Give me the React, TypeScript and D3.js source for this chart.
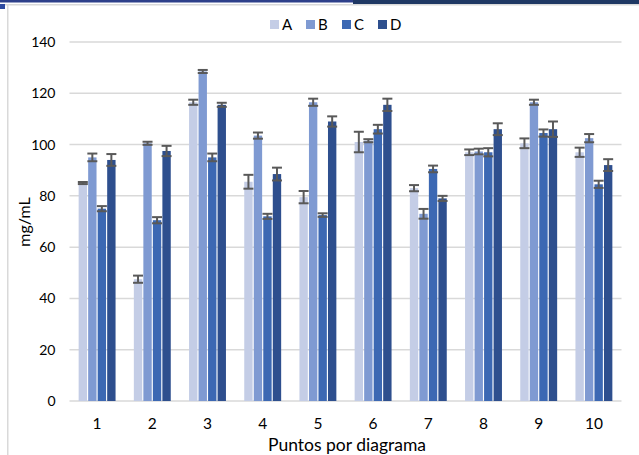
import * as d3 from "d3";
import React, {useRef, useEffect} from "react";

const categories = ["1", "2", "3", "4", "5", "6", "7", "8", "9", "10"];
const seriesNames = ["A", "B", "C", "D"];
const seriesA = [85, 47.5, 116.5, 85.5, 79.5, 101, 83, 97, 100.5, 97];
const seriesB = [95, 100.5, 128.5, 103.5, 116.5, 101.5, 73, 97.3, 116.5, 102.5];
const seriesC = [75, 70.5, 95, 72, 72.5, 106, 90.5, 97, 104.5, 84.5];
const seriesD = [94, 97.5, 115.5, 88.5, 109, 115.5, 79, 106, 106, 92];
const errA = [0.4, 1.4, 1, 2.7, 2.4, 4, 1.2, 1.1, 1.9, 1.8];
const errB = [1.5, 0.6, 0.6, 1.2, 1.4, 0.6, 1.9, 1.1, 1, 1.6];
const errC = [1, 1.2, 1.5, 1, 0.7, 1.7, 1.3, 1.6, 1.4, 1.4];
const errD = [2.3, 2, 0.8, 2.5, 2, 2.4, 1, 2.3, 3, 2.3];
const yTicks = [0, 20, 40, 60, 80, 100, 120, 140];
const colors = ["#c4cde6", "#7f9ad2", "#3c68b3", "#2e4f8e"];

function App() {

    const ref = useRef(null);

    useEffect(() => {

        const svg = d3.select(ref.current);
        svg.selectAll("*").remove();

        const font = "Lato, 'Open Sans', sans-serif";
        const left = 69.5, right = 621.5, top = 42, bottom = 401;

        const values = [seriesA, seriesB, seriesC, seriesD];
        const errors = [errA, errB, errC, errD];
        const data = categories.map((c, i) => ({
            cat: c,
            items: seriesNames.map((s, j) => ({name: s, idx: j, value: values[j][i], err: errors[j][i]}))
        }));

        // frame bits
        svg.append("rect").attr("x", 0).attr("y", 0).attr("width", 639).attr("height", 455).attr("fill", "#fff");
        svg.append("rect").attr("x", 0).attr("y", 0).attr("width", 353).attr("height", 2.5).attr("fill", "#2d3f8a");
        svg.append("rect").attr("x", 353).attr("y", 0).attr("width", 286).attr("height", 4).attr("fill", "#1f3864");
        svg.append("rect").attr("x", 0).attr("y", 4).attr("width", 639).attr("height", 1.5).attr("fill", "#d9d9d9");
        svg.append("rect").attr("x", 7).attr("y", 4).attr("width", 1.5).attr("height", 451).attr("fill", "#d9d9d9");
        svg.append("rect").attr("x", 0).attr("y", 4).attr("width", 5).attr("height", 5).attr("fill", "#2e4aa0");

        const x = d3.scaleBand()
            .domain(categories)
            .range([left, right])
            .paddingInner(0.29)
            .paddingOuter(0.145);

        const sub = d3.scaleBand()
            .domain(seriesNames)
            .range([0, x.bandwidth()])
            .padding(0.12);

        const y = d3.scaleLinear()
            .domain([0, 140])
            .range([bottom, top]);

        // grid
        svg.append("g")
            .selectAll("line")
            .data(yTicks)
            .enter()
            .append("line")
            .attr("x1", left)
            .attr("x2", right)
            .attr("y1", d => y(d))
            .attr("y2", d => y(d))
            .attr("stroke", "#d9d9d9")
            .attr("stroke-width", 1.5);

        const yAxis = d3.axisLeft(y).tickValues(yTicks).tickSize(0).tickPadding(14);
        const gy = svg.append("g")
            .attr("transform", `translate(${left},0)`)
            .call(yAxis);
        gy.select(".domain").remove();
        gy.selectAll("text")
            .attr("font-family", font)
            .attr("font-size", 14)
            .attr("fill", "#000");

        const xAxis = d3.axisBottom(x).tickSize(0).tickPadding(17);
        const gx = svg.append("g")
            .attr("transform", `translate(0,${bottom})`)
            .call(xAxis);
        gx.select(".domain").remove();
        gx.selectAll("text")
            .attr("font-family", font)
            .attr("font-size", 15.5)
            .attr("fill", "#000");

        const groups = svg.selectAll(".grp")
            .data(data)
            .enter()
            .append("g")
            .attr("class", "grp")
            .attr("transform", d => `translate(${x(d.cat)},0)`);

        groups.selectAll("rect")
            .data(d => d.items)
            .enter()
            .append("rect")
            .attr("x", d => sub(d.name))
            .attr("width", sub.bandwidth())
            .attr("y", d => y(d.value))
            .attr("height", d => bottom - y(d.value))
            .attr("fill", d => colors[d.idx]);

        // error bars
        const eb = groups.selectAll(".err")
            .data(d => d.items)
            .enter()
            .append("g")
            .attr("class", "err")
            .attr("stroke", "#595959")
            .attr("stroke-width", 2);

        const cx = d => sub(d.name) + sub.bandwidth() / 2;
        const cap = 5;
        eb.append("line")
            .attr("x1", cx).attr("x2", cx)
            .attr("y1", d => y(d.value + d.err)).attr("y2", d => y(d.value - d.err));
        eb.append("line")
            .attr("x1", d => cx(d) - cap).attr("x2", d => cx(d) + cap)
            .attr("y1", d => y(d.value + d.err)).attr("y2", d => y(d.value + d.err));
        eb.append("line")
            .attr("x1", d => cx(d) - cap).attr("x2", d => cx(d) + cap)
            .attr("y1", d => y(d.value - d.err)).attr("y2", d => y(d.value - d.err));

        // legend
        const legendX = [270, 306, 342, 378];
        const legend = svg.append("g")
            .selectAll("g")
            .data(seriesNames)
            .enter()
            .append("g")
            .attr("transform", (d, i) => `translate(${legendX[i]},20)`);
        legend.append("rect")
            .attr("width", 9)
            .attr("height", 9)
            .attr("fill", (d, i) => colors[i]);
        legend.append("text")
            .text(d => d)
            .attr("x", 12)
            .attr("y", 10)
            .attr("font-family", font)
            .attr("font-size", 15)
            .attr("fill", "#000");

        svg.append("text")
            .text("mg/mL")
            .attr("transform", "translate(30,222) rotate(-90)")
            .attr("text-anchor", "middle")
            .attr("font-family", font)
            .attr("font-size", 16)
            .attr("fill", "#000");

        svg.append("text")
            .text("Puntos por diagrama")
            .attr("x", 347)
            .attr("y", 451)
            .attr("text-anchor", "middle")
            .attr("font-family", font)
            .attr("font-size", 17.5)
            .attr("fill", "#000");

    }, []);

    return (
        <svg ref={ref} width={639} height={455}
            style={{position: "absolute", left: 0, top: 0, display: "block"}} />
    );
}

export default App;
